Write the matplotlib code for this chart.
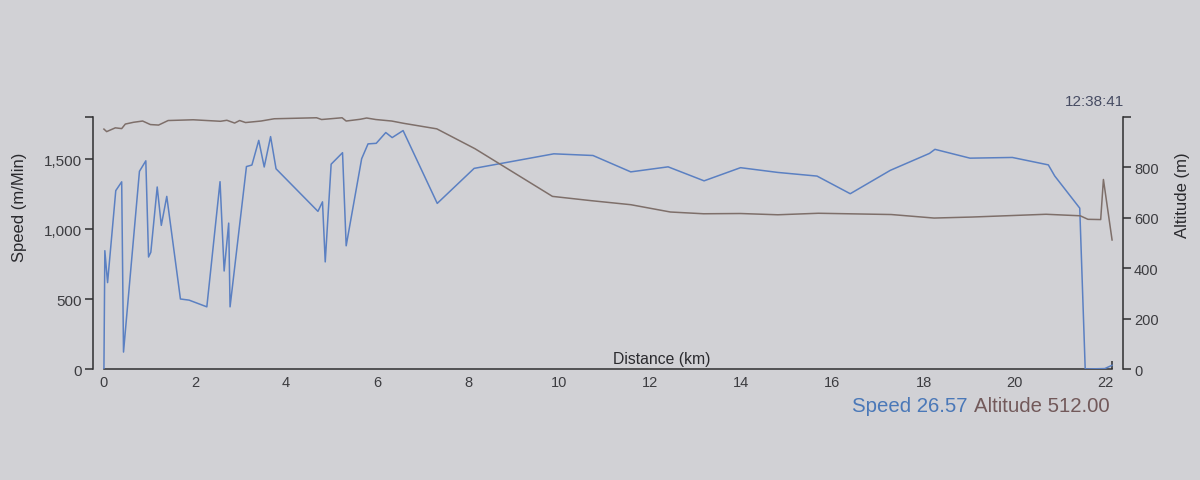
import matplotlib
matplotlib.use("Agg")
import matplotlib.pyplot as plt
from matplotlib.ticker import FuncFormatter

plt.rcParams['font.family'] = ['Liberation Sans', 'DejaVu Sans']

# ---- data ----
speed_km = [0.0, 0.02, 0.08, 0.26, 0.39, 0.43, 0.78, 0.92, 0.98, 1.03, 1.17, 1.26, 1.38,
            1.68, 1.87, 2.26, 2.55, 2.64, 2.74, 2.77, 3.13, 3.25, 3.40, 3.52, 3.66, 3.78,
            4.70, 4.80, 4.86, 4.99, 5.24, 5.32, 5.66, 5.80, 5.98, 6.19, 6.33, 6.57, 7.32,
            8.13, 9.88, 10.74, 11.57, 12.39, 13.18, 13.98, 14.80, 15.66, 16.39, 17.27,
            18.13, 18.25, 19.02, 19.95, 20.74, 20.88, 21.43, 21.55, 21.98, 22.14]
speed_val = [0, 845, 617, 1274, 1337, 121, 1412, 1487, 800, 834, 1300, 1026, 1233,
             500, 492, 444, 1338, 700, 1042, 444, 1446, 1457, 1633, 1443, 1660, 1430,
             1126, 1194, 765, 1463, 1545, 880, 1502, 1608, 1612, 1689, 1653, 1703, 1183,
             1433, 1537, 1525, 1408, 1444, 1344, 1438, 1404, 1378, 1252, 1419,
             1540, 1569, 1506, 1511, 1458, 1379, 1149, 0, 3, 26.57]

alt_km = [0.0, 0.06, 0.25, 0.39, 0.47, 0.65, 0.85, 1.02, 1.20, 1.41, 1.96, 2.56, 2.70,
          2.87, 2.98, 3.11, 3.45, 3.74, 4.67, 4.78, 5.23, 5.32, 5.63, 5.77, 5.97, 6.32,
          6.58, 7.31, 8.15, 9.85, 10.70, 11.57, 12.44, 13.17, 13.98, 14.80, 15.69,
          17.29, 18.23, 19.06, 20.69, 21.44, 21.61, 21.89, 21.95, 22.14]
alt_val = [952, 942, 957, 954, 972, 979, 984, 970, 968, 986, 989, 983, 987,
           976, 986, 978, 984, 993, 997, 990, 997, 984, 991, 996, 990, 984,
           975, 953, 874, 685, 668, 652, 623, 616, 617, 612, 618,
           613, 599, 603, 614, 608, 594, 593, 752, 512.00]

x_ticks = list(range(0, 23, 2))
speed_ticks = [0, 500, 1000, 1500]
alt_ticks = [0, 200, 400, 600, 800]
speed_max = 1800
alt_max = 1000
clock_text = "12:38:41"

# ---- styling ----
bg = '#d1d1d5'
axis_col = '#2e2e30'
label_col = '#3c3c40'
speed_col = '#5b80c2'
alt_col = '#7e6f6a'

fig = plt.figure(figsize=(12, 4.81), dpi=100, facecolor=bg)
W, H = 1200, 481
left_px, right_px, top_px, base_px = 93, 1123, 118, 370
ax = fig.add_axes([left_px / W, 1 - base_px / H, (right_px - left_px) / W, (base_px - top_px) / H])
ax.set_facecolor('none')
ax2 = ax.twinx()
ax2.set_facecolor('none')

xmax = speed_km[-1]
pad = 0.24
ax.set_xlim(-pad, xmax + pad)
ax.set_ylim(0, speed_max)
ax2.set_ylim(0, alt_max)

ax.plot(speed_km, speed_val, color=speed_col, lw=1.1, zorder=3)
ax2.plot(alt_km, alt_val, color=alt_col, lw=1.1, zorder=2)

for s in ['top', 'right']:
    ax.spines[s].set_visible(False)
for s in ['top', 'left', 'bottom']:
    ax2.spines[s].set_visible(False)
ax.spines['left'].set_color(axis_col)
ax.spines['bottom'].set_color(axis_col)
ax2.spines['right'].set_color(axis_col)
for sp in [ax.spines['left'], ax.spines['bottom'], ax2.spines['right']]:
    sp.set_linewidth(1.1)
ax.spines['bottom'].set_bounds(0, xmax)

ax.set_xticks(x_ticks)
ax.set_xticks([0, xmax], minor=True)
ax.tick_params(axis='x', which='major', length=0, pad=4, labelsize=10.5, labelcolor=label_col)
ax.tick_params(axis='x', which='minor', direction='in', length=6, width=1.1, color=axis_col)

ax.set_yticks(speed_ticks)
ax.set_yticks([speed_max], minor=True)
ax.yaxis.set_major_formatter(FuncFormatter(lambda v, p: f"{int(v):,}"))
ax.tick_params(axis='y', which='both', direction='out', length=6, width=1.1, color=axis_col,
               labelsize=11, labelcolor=label_col, pad=2)

ax2.set_yticks(alt_ticks)
ax2.set_yticks([alt_max], minor=True)
ax2.tick_params(axis='y', which='both', direction='out', length=6, width=1.1, color=axis_col,
                labelsize=10.5, labelcolor=label_col, pad=2)

ax.text(0.552, 0.012, "Distance (km)", transform=ax.transAxes, ha='center', va='bottom',
        fontsize=11.3, color='#2a2a2e')

fig.text(20 / W, 1 - 207 / H, "Speed (m/Min)", rotation=90, ha='center', va='center',
         fontsize=12, color='#2a2a2e')
fig.text(1183 / W, 1 - 195 / H, "Altitude (m)", rotation=90, ha='center', va='center',
         fontsize=12, color='#2a2a2e')
fig.text(1094 / W, 1 - 102 / H, clock_text, ha='center', va='center',
         fontsize=11, color='#474c63')

fig.text(1110 / W, 1 - 412 / H, f"Altitude {alt_val[-1]:.2f}", ha='right', va='baseline',
         fontsize=14.7, color='#72595a')
fig.text(968 / W, 1 - 412 / H, f"Speed {speed_val[-1]:.2f}", ha='right', va='baseline',
         fontsize=14.7, color='#4a78b8')

fig.savefig("out.png", dpi=100, facecolor=bg)
